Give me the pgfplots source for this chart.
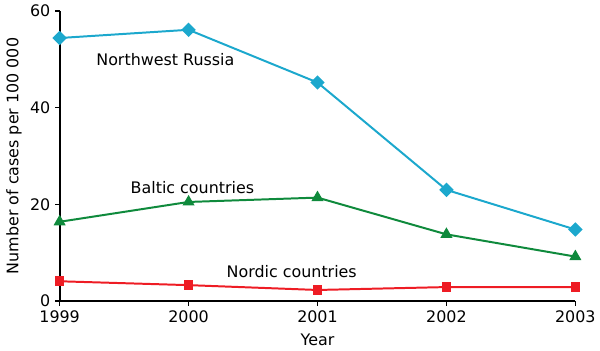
\documentclass[border=0pt]{standalone}
\usepackage{pgfplots}
\pgfplotsset{compat=1.18}
\usepackage{fontspec}
\setmainfont{DejaVu Sans}
\definecolor{cyanl}{HTML}{1CA8CD}
\definecolor{greenl}{HTML}{0F8A3C}
\definecolor{redl}{HTML}{EE1C24}
\begin{document}
\begin{tikzpicture}[font=\fontsize{12}{14}\selectfont]
\begin{axis}[
  scale only axis,
  width=389.25pt, height=219pt,
  xmin=1999, xmax=2003, ymin=0, ymax=60,
  axis lines*=left,
  axis line style={line width=1.5pt, black},
  xtick={1999,2000,2001,2002,2003},
  ytick={0,20,40,60},
  tick style={line width=1.2pt, black},
  tick align=outside,
  major tick length=3.5pt,
  /pgf/number format/1000 sep={},
  /pgf/number format/assume math mode=true,
  xlabel={Year},
  ylabel={Number of cases per 100 000},
  xlabel style={at={(axis description cs:0.5,-0.1342)}, anchor=center},
  ylabel style={at={(axis description cs:-0.0886,0.5)}, anchor=center},
  clip=false,
]
\addplot[color=cyanl, line width=1.5pt, mark=square*, mark size=3.1pt, mark options={rotate=45, solid}]
  coordinates {(1999,54.4) (2000,56.1) (2001,45.2) (2002,23.0) (2003,14.8)};
\addplot[color=greenl, line width=1.5pt, mark=triangle*, mark size=3.8pt]
  coordinates {(1999,16.4) (2000,20.5) (2001,21.4) (2002,13.8) (2003,9.2)};
\addplot[color=redl, line width=1.5pt, mark=square*, mark size=2.9pt]
  coordinates {(1999,4.1) (2000,3.3) (2001,2.3) (2002,2.9) (2003,2.9)};
\node at (axis cs:1999.82,49.9) {Northwest Russia};
\node at (axis cs:2000.03,23.4) {Baltic countries};
\node at (axis cs:2000.80,6.2) {Nordic countries};
\coordinate (O) at (rel axis cs:0,0);
\end{axis}
\path (O) ++(-45pt,-36.75pt) rectangle ++(450pt,264pt);
\end{tikzpicture}
\end{document}
